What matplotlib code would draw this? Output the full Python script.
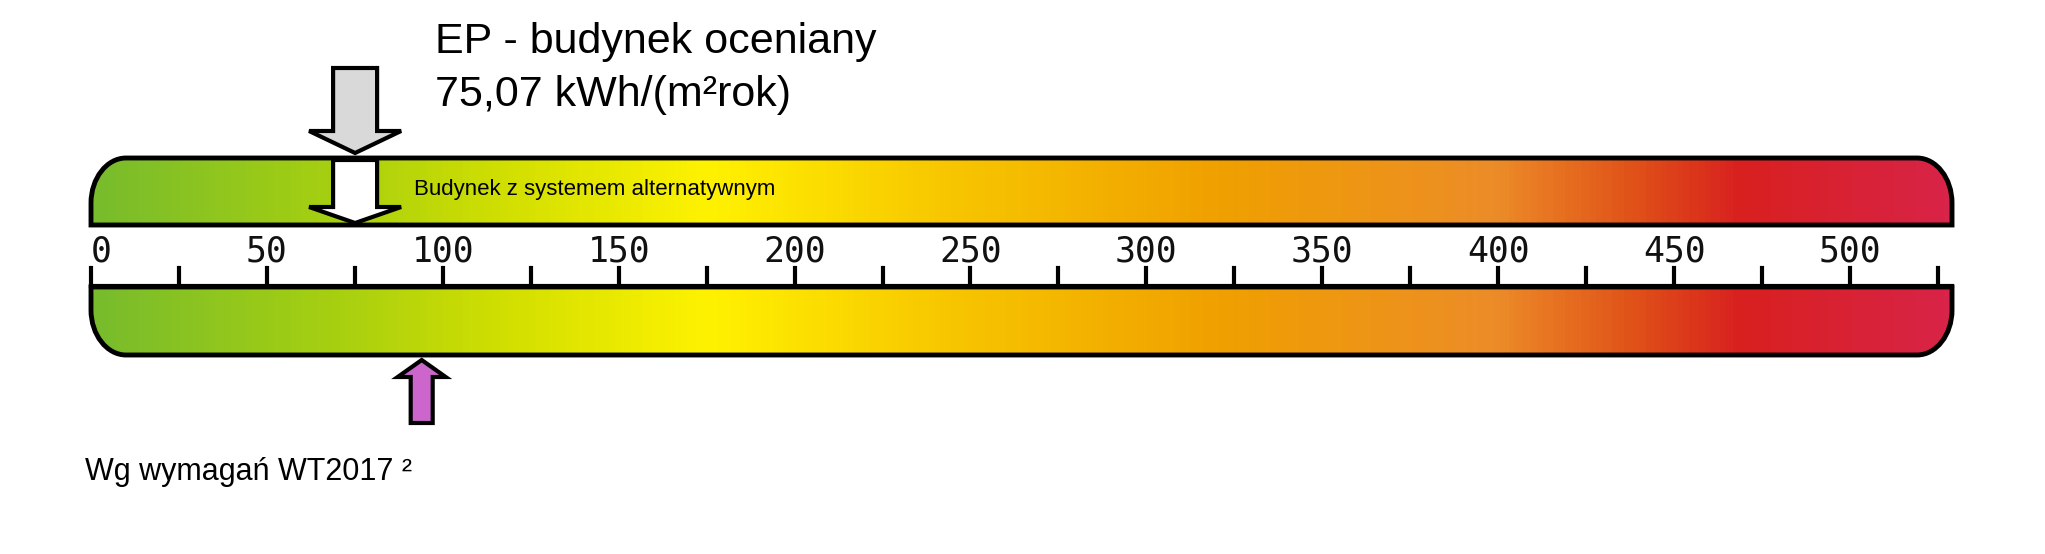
import numpy as np
import matplotlib
matplotlib.use("Agg")
import matplotlib.pyplot as plt
from matplotlib.path import Path
from matplotlib.patches import PathPatch, Polygon
from matplotlib.colors import LinearSegmentedColormap

# data
scale_max = 529
tick_major = [0, 50, 100, 150, 200, 250, 300, 350, 400, 450, 500]
tick_minor = [25, 75, 125, 175, 225, 275, 325, 375, 425, 475, 525]
ep_value = 75.07
wt_value = 94
title1 = "EP - budynek oceniany"
title2 = "75,07 kWh/(m²rok)"
alt_label = "Budynek z systemem alternatywnym"
wt_label = "Wg wymagań WT2017 ²"
stops = [0, 70, 120, 175, 240, 320, 400, 440, 470, 529]
stop_colors = ["#78bc2c", "#a8d010", "#d4e000", "#fff200", "#f8c800",
               "#f0a000", "#ec8c28", "#e05018", "#d82020", "#d82448"]

W, H = 2045, 554
fig = plt.figure(figsize=(W/100, H/100), dpi=100)
ax = fig.add_axes([0, 0, 1, 1])
ppu = (1850-91)/500.0
ax.set_xlim(-91/ppu, (W-91)/ppu)
ax.set_ylim(H, 0)
ax.axis("off")

cmap = LinearSegmentedColormap.from_list("ep", [(s/scale_max, c) for s, c in zip(stops, stop_colors)])
grad = np.linspace(0, 1, 600).reshape(1, -1)

rx = 35/ppu
def bar_path(y0, y1, round_top):
    ry = 45
    k = 0.55
    x0, x1 = 0, scale_max
    if round_top:
        v = [(x0, y1), (x0, y0+ry), (x0, y0+ry*(1-k)), (x0+rx*(1-k), y0), (x0+rx, y0),
             (x1-rx, y0), (x1-rx*(1-k), y0), (x1, y0+ry*(1-k)), (x1, y0+ry),
             (x1, y1), (x0, y1)]
    else:
        v = [(x0, y0), (x0, y1-ry), (x0, y1-ry*(1-k)), (x0+rx*(1-k), y1), (x0+rx, y1),
             (x1-rx, y1), (x1-rx*(1-k), y1), (x1, y1-ry*(1-k)), (x1, y1-ry),
             (x1, y0), (x0, y0)]
    codes = [Path.MOVETO, Path.LINETO, Path.CURVE4, Path.CURVE4, Path.CURVE4,
             Path.LINETO, Path.CURVE4, Path.CURVE4, Path.CURVE4, Path.LINETO, Path.CLOSEPOLY]
    return Path(v, codes)

for (y0, y1, top) in [(158, 225, True), (287, 355, False)]:
    p = bar_path(y0, y1, top)
    im = ax.imshow(grad, cmap=cmap, aspect="auto", extent=[0, scale_max, y1, y0], zorder=1)
    patch = PathPatch(p, facecolor="none", edgecolor="black", lw=3.5, zorder=3)
    ax.add_patch(patch)
    im.set_clip_path(patch)

# scale line & ticks
ax.plot([0, scale_max], [286, 286], color="black", lw=3, zorder=3)
for t in tick_major + tick_minor:
    ax.plot([t, t], [286, 268], color="black", lw=3, zorder=3)
for t in tick_major:
    ax.text(t, 252, str(t), ha="left" if t == 0 else "center", va="center",
            fontsize=25, family="DejaVu Sans Mono", color="#111111")

# arrows
def down_arrow(xc, ytop, yhead, ytip, sw, hw, fc):
    pts = [(xc-sw, ytop), (xc+sw, ytop), (xc+sw, yhead), (xc+hw, yhead), (xc, ytip),
           (xc-hw, yhead), (xc-sw, yhead)]
    ax.add_patch(Polygon(pts, closed=True, facecolor=fc, edgecolor="black", lw=3, zorder=5))

down_arrow(ep_value, 68, 131, 153, 22/ppu, 46/ppu, "#d9d9d9")
down_arrow(ep_value, 160, 207, 223, 22/ppu, 46/ppu, "white")
# up arrow
xc = wt_value
sw, hw = 11/ppu, 24/ppu
pts = [(xc-sw, 423), (xc+sw, 423), (xc+sw, 377), (xc+hw, 377), (xc, 360), (xc-hw, 377), (xc-sw, 377)]
ax.add_patch(Polygon(pts, closed=True, facecolor="#cc66cc", edgecolor="black", lw=3, zorder=5))

ax.text((435-91)/ppu, 42, title1, fontsize=31, family="Liberation Sans", va="center", ha="left")
ax.text((435-91)/ppu, 95, title2, fontsize=31, family="Liberation Sans", va="center", ha="left")
ax.text((414-91)/ppu, 189, alt_label, fontsize=16, family="Liberation Sans", va="center", ha="left", zorder=6)
ax.text((85-91)/ppu, 472, wt_label, fontsize=22, family="Liberation Sans", va="center", ha="left")

fig.savefig("out.png", dpi=100, facecolor="white")
